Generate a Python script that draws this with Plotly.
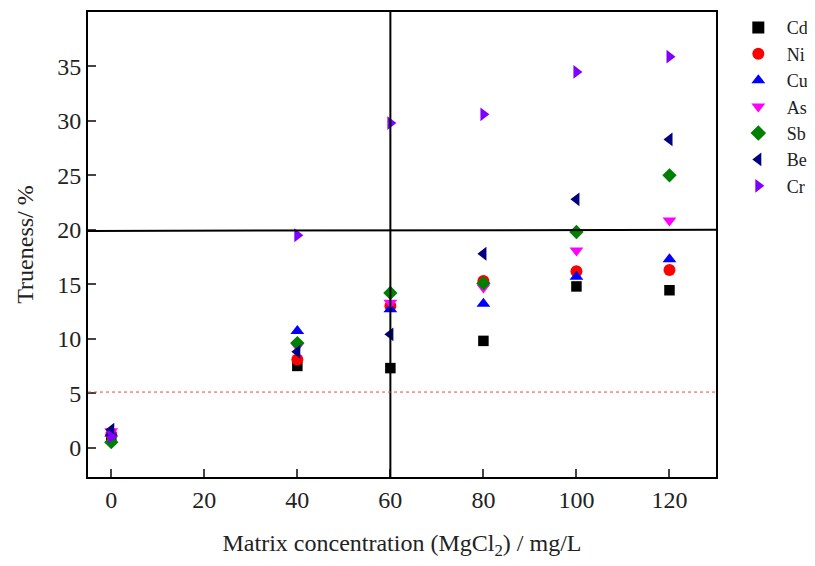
import plotly.graph_objects as go

x_conc = [0, 40, 60, 80, 100, 120]
series_names = ["Cd", "Ni", "Cu", "As", "Sb", "Be", "Cr"]
cd = [0.9, 7.5, 7.3, 9.8, 14.8, 14.45]
ni = [1.2, 8.1, 13.0, 15.3, 16.2, 16.3]
cu = [1.3, 10.7, 12.7, 13.2, 15.7, 17.3]
as_ = [1.5, 9.3, 13.3, 14.7, 18.1, 20.85]
sb = [0.5, 9.6, 14.2, 15.1, 19.8, 25.0]
be = [1.65, 8.8, 10.4, 17.8, 22.8, 28.3]
cr = [1.0, 19.5, 29.8, 30.6, 34.5, 35.9]
values = [cd, ni, cu, as_, sb, be, cr]
symbols = ["square", "circle", "triangle-up", "triangle-down", "diamond", "triangle-left", "triangle-right"]
sizes = [10.5, 12, 12, 12, 11, 12, 12]
colors = ["#000000", "#FF0000", "#0000FF", "#FF00FF", "#008000", "#000080", "#8000FF"]
x_ticks = [0, 20, 40, 60, 80, 100, 120]
y_ticks = [0, 5, 10, 15, 20, 25, 30, 35]

fig = go.Figure()
for name, vals, sym, sz, col in zip(series_names, values, symbols, sizes, colors):
    fig.add_trace(go.Scatter(x=x_conc, y=vals, mode="markers", name=name,
                             marker=dict(symbol=sym, color=col, size=sz, line=dict(width=0))))

fig.add_shape(type="line", xref="paper", yref="y", x0=0, x1=1, y0=19.9, y1=20.0,
              line=dict(color="black", width=2))
fig.add_shape(type="line", xref="x", yref="paper", x0=60, x1=60, y0=0, y1=1,
              line=dict(color="black", width=2))
fig.add_shape(type="line", xref="paper", yref="y", x0=0, x1=1, y0=5.1, y1=5.1,
              line=dict(color="#FF4040", width=1, dash="dot"))

FAM = "Liberation Serif"
fnt = dict(family=FAM, size=24, color="#222")
fig.update_layout(
    width=815, height=566,
    margin=dict(l=80, r=107, t=4, b=97, autoexpand=False),
    plot_bgcolor="white", paper_bgcolor="white",
    font=fnt,
    showlegend=True,
    legend=dict(x=1.022, y=1.006, xanchor="left", yanchor="top",
                font=dict(family=FAM, size=18, color="#222"),
                tracegroupgap=0, itemsizing="constant", itemwidth=47,
                bgcolor="rgba(0,0,0,0)"),
    xaxis=dict(range=[-5, 130], tickvals=x_ticks, ticks="inside", ticklen=8, tickwidth=2,
               showline=True, linewidth=2, linecolor="black", mirror=True, showgrid=False,
               zeroline=False, tickfont=fnt, automargin=False,
               title=dict(text="Matrix concentration (MgCl<sub>2</sub>) / mg/L", font=fnt, standoff=22)),
    yaxis=dict(range=[-2.7, 40], tickvals=y_ticks, ticks="inside", ticklen=8, tickwidth=2,
               showline=True, linewidth=2, linecolor="black", mirror=True, showgrid=False,
               zeroline=False, tickfont=fnt, automargin=False,
               title=dict(text="Trueness/ %", font=fnt, standoff=17)),
)
fig.write_html("out.html")
